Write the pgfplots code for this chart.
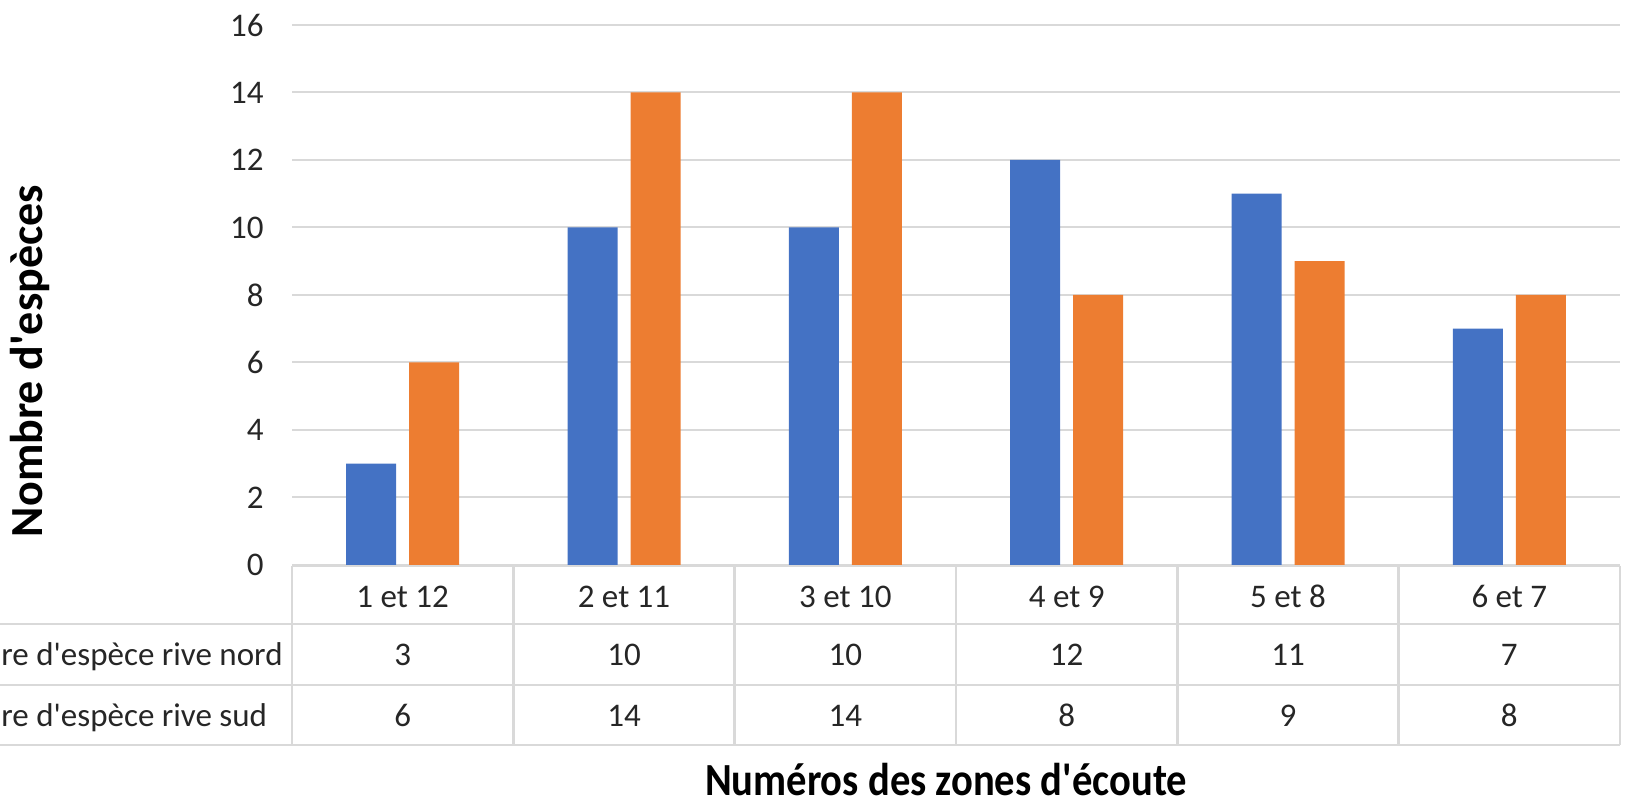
\documentclass[border=0pt]{standalone}
\usepackage{fontspec}
\setmainfont{Carlito}[Ligatures=TeXOff]
\usepackage{graphicx}
\usepackage{pgfplots}
\usepackage{pgfplotstable}
\pgfplotsset{compat=1.18}
\definecolor{cblue}{HTML}{4472C4}
\definecolor{corange}{HTML}{ED7D31}
\definecolor{cgrid}{HTML}{D9D9D9}
\pgfplotstableread{
x nord sud
0 3 6
1 10 14
2 10 14
3 12 8
4 11 9
5 7 8
}\data
\begin{document}
\begin{tikzpicture}
\path[use as bounding box] (0pt,0pt) rectangle (813.5pt,403.5pt);
\clip (0pt,0pt) rectangle (813.5pt,403.5pt);
\begin{axis}[
  at={(146pt,121pt)}, anchor=south west,
  scale only axis, width=664pt, height=270pt,
  xmin=-0.5, xmax=5.5, ymin=0, ymax=16,
  ytick={0,2,...,16},
  xtick={0,...,5},
  xticklabels={1 et 12, 2 et 11, 3 et 10, 4 et 9, 5 et 8, 6 et 7},
  axis line style={draw=none},
  major tick length=0pt,
  ymajorgrids, grid style={cgrid, line width=1pt},
  ybar=6.5pt, bar width=25pt,
  tick label style={font=\fontsize{16.5}{19}\selectfont, text=black!85},
  /pgf/number format/assume math mode=true,
  yticklabel style={anchor=east, inner sep=0pt, xshift=-14pt},
  xticklabel style={anchor=base, inner sep=0pt, yshift=-21.5pt},
]
\addplot[draw=none, fill=cblue] table[x=x,y=nord]{\data};
\addplot[draw=none, fill=corange] table[x=x,y=sud]{\data};
\end{axis}
% data table grid
\draw[cgrid, line width=1.2pt] (146pt,120.5pt) -- (810pt,120.5pt);
\foreach \y in {91.5,61,31} \draw[cgrid, line width=1.2pt] (-5pt,\y pt) -- (810pt,\y pt);
\foreach \k in {0,...,6} \draw[cgrid, line width=1.2pt] (146pt+\k*110.667pt,120.5pt) -- (146pt+\k*110.667pt,31pt);
\foreach \k in {0,...,5}{
  \pgfplotstablegetelem{\k}{nord}\of\data
  \node[anchor=base, inner sep=0pt, font=\fontsize{16.5}{19}\selectfont, text=black!85] at (146pt+\k*110.667pt+55.333pt,70.5pt) {\pgfplotsretval};
  \pgfplotstablegetelem{\k}{sud}\of\data
  \node[anchor=base, inner sep=0pt, font=\fontsize{16.5}{19}\selectfont, text=black!85] at (146pt+\k*110.667pt+55.333pt,40pt) {\pgfplotsretval};
}
\node[anchor=base west, inner sep=0pt, font=\fontsize{16.5}{19}\selectfont, text=black!85] at (0.5pt,70.5pt) {re d'espèce rive nord};
\node[anchor=base west, inner sep=0pt, font=\fontsize{16.5}{19}\selectfont, text=black!85] at (0.5pt,40pt) {re d'espèce rive sud};
% axis titles
\node[rotate=90, inner sep=0pt, font=\bfseries\fontsize{23}{27}\selectfont] at (15pt,223pt) {Nombre d'espèces};
\node[anchor=base, inner sep=0pt, font=\bfseries\fontsize{23}{27}\selectfont] at (473pt,5.5pt) {\resizebox{241pt}{\height}{Numéros des zones d'écoute}};
\end{tikzpicture}
\end{document}
